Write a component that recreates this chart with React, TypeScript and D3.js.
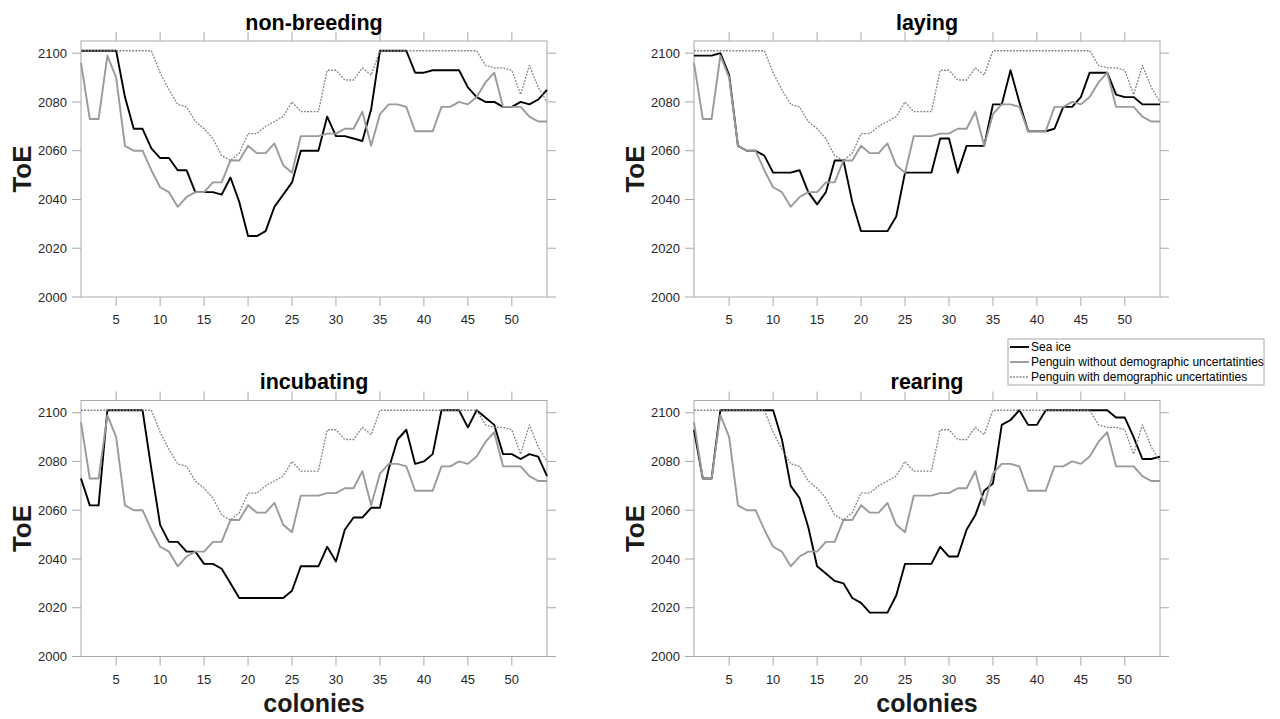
import * as d3 from "d3";

// ToE per colony (1..54); 2101 = no emergence before 2100
const colonies = d3.range(1, 55);

const seaIceNonBreeding = [
  2101, 2101, 2101, 2101, 2101, 2082, 2069, 2069, 2061, 2057,
  2057, 2052, 2052, 2043, 2043, 2043, 2042, 2049, 2039, 2025,
  2025, 2027, 2037, 2042, 2047, 2060, 2060, 2060, 2074, 2066,
  2066, 2065, 2064, 2077, 2101, 2101, 2101, 2101, 2092, 2092,
  2093, 2093, 2093, 2093, 2086, 2082, 2080, 2080, 2078, 2078,
  2080, 2079, 2081, 2085,
];

const seaIceLaying = [
  2099, 2099, 2099, 2100, 2091, 2062, 2060, 2060, 2058, 2051,
  2051, 2051, 2052, 2043, 2038, 2043, 2056, 2056, 2039, 2027,
  2027, 2027, 2027, 2033, 2051, 2051, 2051, 2051, 2065, 2065,
  2051, 2062, 2062, 2062, 2079, 2079, 2093, 2080, 2068, 2068,
  2068, 2069, 2078, 2078, 2082, 2092, 2092, 2092, 2083, 2082,
  2082, 2079, 2079, 2079,
];

const seaIceIncubating = [
  2073, 2062, 2062, 2101, 2101, 2101, 2101, 2101, 2077, 2054,
  2047, 2047, 2043, 2043, 2038, 2038, 2036, 2030, 2024, 2024,
  2024, 2024, 2024, 2024, 2027, 2037, 2037, 2037, 2045, 2039,
  2052, 2057, 2057, 2061, 2061, 2077, 2089, 2093, 2079, 2080,
  2083, 2101, 2101, 2101, 2094, 2101, 2098, 2095, 2083, 2083,
  2081, 2083, 2082, 2074,
];

const seaIceRearing = [
  2093, 2073, 2073, 2101, 2101, 2101, 2101, 2101, 2101, 2101,
  2089, 2070, 2065, 2053, 2037, 2034, 2031, 2030, 2024, 2022,
  2018, 2018, 2018, 2025, 2038, 2038, 2038, 2038, 2045, 2041,
  2041, 2052, 2058, 2068, 2071, 2095, 2097, 2101, 2095, 2095,
  2101, 2101, 2101, 2101, 2101, 2101, 2101, 2101, 2098, 2098,
  2090, 2081, 2081, 2082,
];

const penguinWithout = [
  2096, 2073, 2073, 2099, 2090, 2062, 2060, 2060, 2052, 2045,
  2043, 2037, 2041, 2043, 2043, 2047, 2047, 2056, 2056, 2062,
  2059, 2059, 2063, 2054, 2051, 2066, 2066, 2066, 2067, 2067,
  2069, 2069, 2076, 2062, 2075, 2079, 2079, 2078, 2068, 2068,
  2068, 2078, 2078, 2080, 2079, 2082, 2088, 2092, 2078, 2078,
  2078, 2074, 2072, 2072,
];

const penguinWith = [
  2101, 2101, 2101, 2101, 2101, 2101, 2101, 2101, 2101, 2092,
  2085, 2079, 2078, 2072, 2069, 2065, 2058, 2056, 2059, 2067,
  2067, 2070, 2072, 2074, 2080, 2076, 2076, 2076, 2093, 2093,
  2089, 2089, 2094, 2091, 2101, 2101, 2101, 2101, 2101, 2101,
  2101, 2101, 2101, 2101, 2101, 2101, 2095, 2094, 2094, 2093,
  2083, 2095, 2086, 2080,
];

const xTicks = [5, 10, 15, 20, 25, 30, 35, 40, 45, 50];
const yTicks = [2000, 2020, 2040, 2060, 2080, 2100];
const legendLabels = [
  "Sea ice",
  "Penguin without demographic uncertatinties",
  "Penguin with demographic uncertatinties",
];

const FONT = "'Liberation Sans', Arial, Helvetica, sans-serif";
const AXIS = "#a8a8a8";
const TEXT = "#262626";
const W = 466;
const H = 256;
const TICK = 9;

const styles = [
  { stroke: "#000000", width: 1.9, dash: undefined },
  { stroke: "#9a9a9a", width: 1.9, dash: undefined },
  { stroke: "#808080", width: 1.3, dash: "1.8 1.4" },
];

function Panel({
  title,
  seaIce,
  left,
  top,
  xLabel,
}: {
  title: string;
  seaIce: number[];
  left: number;
  top: number;
  xLabel: boolean;
}) {
  const x = d3.scaleLinear().domain([1, 54]).range([0, W]);
  const y = d3.scaleLinear().domain([2000, 2105]).range([H, 0]);
  const line = d3
    .line<number>()
    .x((_, i) => x(colonies[i]))
    .y((d) => y(d));
  const series = [seaIce, penguinWithout, penguinWith];

  return (
    <g transform={`translate(${left},${top})`}>
      <rect x={0} y={0} width={W} height={H} fill="none" stroke={AXIS} strokeWidth={1} />
      {xTicks.map((t) => (
        <g key={t}>
          <line x1={x(t)} x2={x(t)} y1={H} y2={H + TICK} stroke={AXIS} />
          <line x1={x(t)} x2={x(t)} y1={0} y2={-TICK} stroke={AXIS} />
          <text x={x(t)} y={H + 27} textAnchor="middle" fontSize={13} fill={TEXT}>
            {t}
          </text>
        </g>
      ))}
      {yTicks.map((t) => (
        <g key={t}>
          <line x1={-TICK} x2={0} y1={y(t)} y2={y(t)} stroke={AXIS} />
          <line x1={W} x2={W + TICK} y1={y(t)} y2={y(t)} stroke={AXIS} />
          <text x={-14} y={y(t)} dy="0.35em" textAnchor="end" fontSize={13} fill={TEXT}>
            {t}
          </text>
        </g>
      ))}
      {series.map((s, i) => (
        <path
          key={i}
          d={line(s) ?? ""}
          fill="none"
          stroke={styles[i].stroke}
          strokeWidth={styles[i].width}
          strokeDasharray={styles[i].dash}
          strokeLinejoin="round"
        />
      ))}
      <text x={W / 2} y={-11.5} textAnchor="middle" fontSize={21.5} fontWeight="bold" fill="#000">
        {title}
      </text>
      <text
        transform={`translate(${-59},${H / 2}) rotate(-90)`}
        textAnchor="middle"
        dy="0.35em"
        fontSize={26}
        fontWeight="bold"
        fill="#1a1a1a"
      >
        ToE
      </text>
      {xLabel && (
        <text x={W / 2} y={H + 55} textAnchor="middle" fontSize={25} fontWeight="bold" fill="#1a1a1a">
          colonies
        </text>
      )}
    </g>
  );
}

function Legend({ left, top }: { left: number; top: number }) {
  return (
    <g transform={`translate(${left},${top})`}>
      <rect x={0} y={0} width={256} height={46} fill="#fff" stroke={AXIS} strokeWidth={1} />
      {legendLabels.map((label, i) => (
        <g key={label} transform={`translate(0,${8 + i * 15})`}>
          <line
            x1={2}
            x2={21}
            y1={0}
            y2={0}
            stroke={styles[i].stroke}
            strokeWidth={styles[i].width}
            strokeDasharray={styles[i].dash}
          />
          <text x={23} y={0} dy="0.35em" fontSize={12} fill="#000">
            {label}
          </text>
        </g>
      ))}
    </g>
  );
}

export default function App() {
  const panels = [
    { title: "non-breeding", seaIce: seaIceNonBreeding, left: 81, top: 41, xLabel: false },
    { title: "laying", seaIce: seaIceLaying, left: 694, top: 41, xLabel: false },
    { title: "incubating", seaIce: seaIceIncubating, left: 81, top: 400.5, xLabel: true },
    { title: "rearing", seaIce: seaIceRearing, left: 694, top: 400.5, xLabel: true },
  ];
  return (
    <div style={{ position: "absolute", left: 0, top: 0 }}>
      <svg width={1280} height={719} style={{ display: "block", fontFamily: FONT, background: "#fff" }}>
        {panels.map((p) => (
          <Panel key={p.title} {...p} />
        ))}
        <Legend left={1008} top={339} />
      </svg>
    </div>
  );
}
